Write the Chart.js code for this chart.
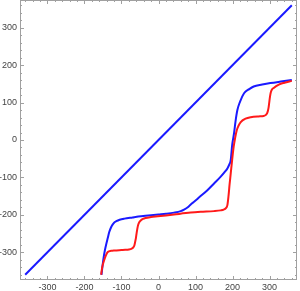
<!DOCTYPE html>
<html>
<head>
<meta charset="utf-8">
<script src="https://cdn.jsdelivr.net/npm/chart.js@4"></script>
<style>
  html, body { margin: 0; padding: 0; background: #fff; }
  #wrap { width: 300px; height: 291px; }
</style>
</head>
<body>
<div id="wrap"><canvas id="plot"></canvas></div>
<script>
// diagonal reference line
const diagX = [-360, 360];
const diagY = [-360, 360];

// blue curve
const blueX = [-154, -151, -148, -145, -141, -137, -133, -128, -124, -120, -114, -105, -92, -70, -47, -20, 0, 20, 42, 60, 69, 80, 87, 96, 110, 132, 150, 168, 180, 186, 191, 195, 199, 204, 208, 213, 220, 231, 245, 257, 280, 302, 330, 360];
const blueY = [-360, -335, -313, -296, -278, -262, -246, -233, -226, -221, -217, -213, -210, -207, -204, -201, -199, -197, -194, -190, -186, -179, -172, -165, -153, -134, -116, -98, -84, -76, -66, -54, -13, 18, 50, 80, 102, 125, 136, 143, 148, 152, 156, 160];

// red curve
const redX = [-155, -152, -147, -142, -137, -128, -119, -100, -90, -80, -72, -68, -65, -63, -61, -59, -57, -55, -52, -48, -42, -35, -20, -2, 42, 87, 114, 150, 168, 176, 182, 186, 189, 192, 195, 199, 203, 207, 211, 216, 222, 235, 249, 270, 284, 290, 294, 297, 299, 301, 303, 306, 311, 325, 340, 360];
const redY = [-360, -340, -322, -308, -299, -296, -295, -294, -293.5, -292.5, -290, -287, -281, -272, -262, -248, -236, -227, -220, -215, -211, -208.5, -206, -204, -199, -194, -192, -190, -188, -186, -182, -174, -150, -118, -90, -52, -18, 6, 25, 38, 48, 57, 61, 63, 64, 67, 73, 85, 100, 115, 126, 134, 139, 148, 153, 158];

const tickVals = [-300, -200, -100, 0, 100, 200, 300];

function pts(xs, ys) {
    return xs.map((x, i) => ({ x: x, y: ys[i] }));
}

// frame with inward ticks, like the original
const frame = {
    id: 'frame',
    afterDraw(chart) {
        const ctx = chart.ctx;
        const a = chart.chartArea;
        const sx = chart.scales.x, sy = chart.scales.y;
        ctx.save();
        ctx.strokeStyle = '#a0a0a0';
        ctx.lineWidth = 1;
        ctx.strokeRect(a.left + 0.5, a.top + 0.5, a.right - a.left - 1, a.bottom - a.top - 1);
        ctx.beginPath();
        for (let v = -360; v <= 360; v += 20) {
            const len = (v % 100 === 0) ? 4 : 2;
            const px = Math.round(sx.getPixelForValue(v)) + 0.5;
            ctx.moveTo(px, a.bottom); ctx.lineTo(px, a.bottom - len);
            ctx.moveTo(px, a.top); ctx.lineTo(px, a.top + len);
            const py = Math.round(sy.getPixelForValue(v)) + 0.5;
            ctx.moveTo(a.left, py); ctx.lineTo(a.left + len, py);
            ctx.moveTo(a.right, py); ctx.lineTo(a.right - len, py);
        }
        ctx.stroke();
        ctx.restore();
    }
};

function makeAxis(pad, size) {
    return {
        type: 'linear',
        min: -374,
        max: 374,
        grid: { display: false, drawTicks: false },
        border: { display: false },
        afterBuildTicks: s => { s.ticks = tickVals.map(v => ({ value: v })); },
        afterFit: s => {
            if (s.isHorizontal()) s.height = size; else s.width = size;
            s.paddingTop = 0; s.paddingBottom = 0;
            s.paddingLeft = 0; s.paddingRight = 0;
        },
        ticks: {
            color: '#444',
            font: { family: 'Liberation Sans', size: 9 },
            padding: pad,
            autoSkip: false,
            maxRotation: 0
        }
    };
}

new Chart(document.getElementById('plot'), {
    type: 'scatter',
    data: {
        datasets: [{
            data: pts(diagX, diagY),
            showLine: true,
            borderColor: '#1a1aff',
            borderWidth: 2,
            pointRadius: 0
        }, {
            data: pts(redX, redY),
            showLine: true,
            borderColor: '#ff1a1a',
            borderWidth: 2,
            pointRadius: 0,
            cubicInterpolationMode: 'monotone'
        }, {
            data: pts(blueX, blueY),
            showLine: true,
            borderColor: '#1a1aff',
            borderWidth: 2,
            pointRadius: 0,
            cubicInterpolationMode: 'monotone'
        }]
    },
    options: {
        responsive: true,
        maintainAspectRatio: false,
        animation: false,
        layout: { padding: { top: 0, right: 3, left: 0, bottom: 0 } },
        plugins: { legend: { display: false }, tooltip: { enabled: false } },
        scales: {
            x: makeAxis(2, 11),
            y: makeAxis(3, 20)
        }
    },
    plugins: [frame]
});
</script>
</body>
</html>
